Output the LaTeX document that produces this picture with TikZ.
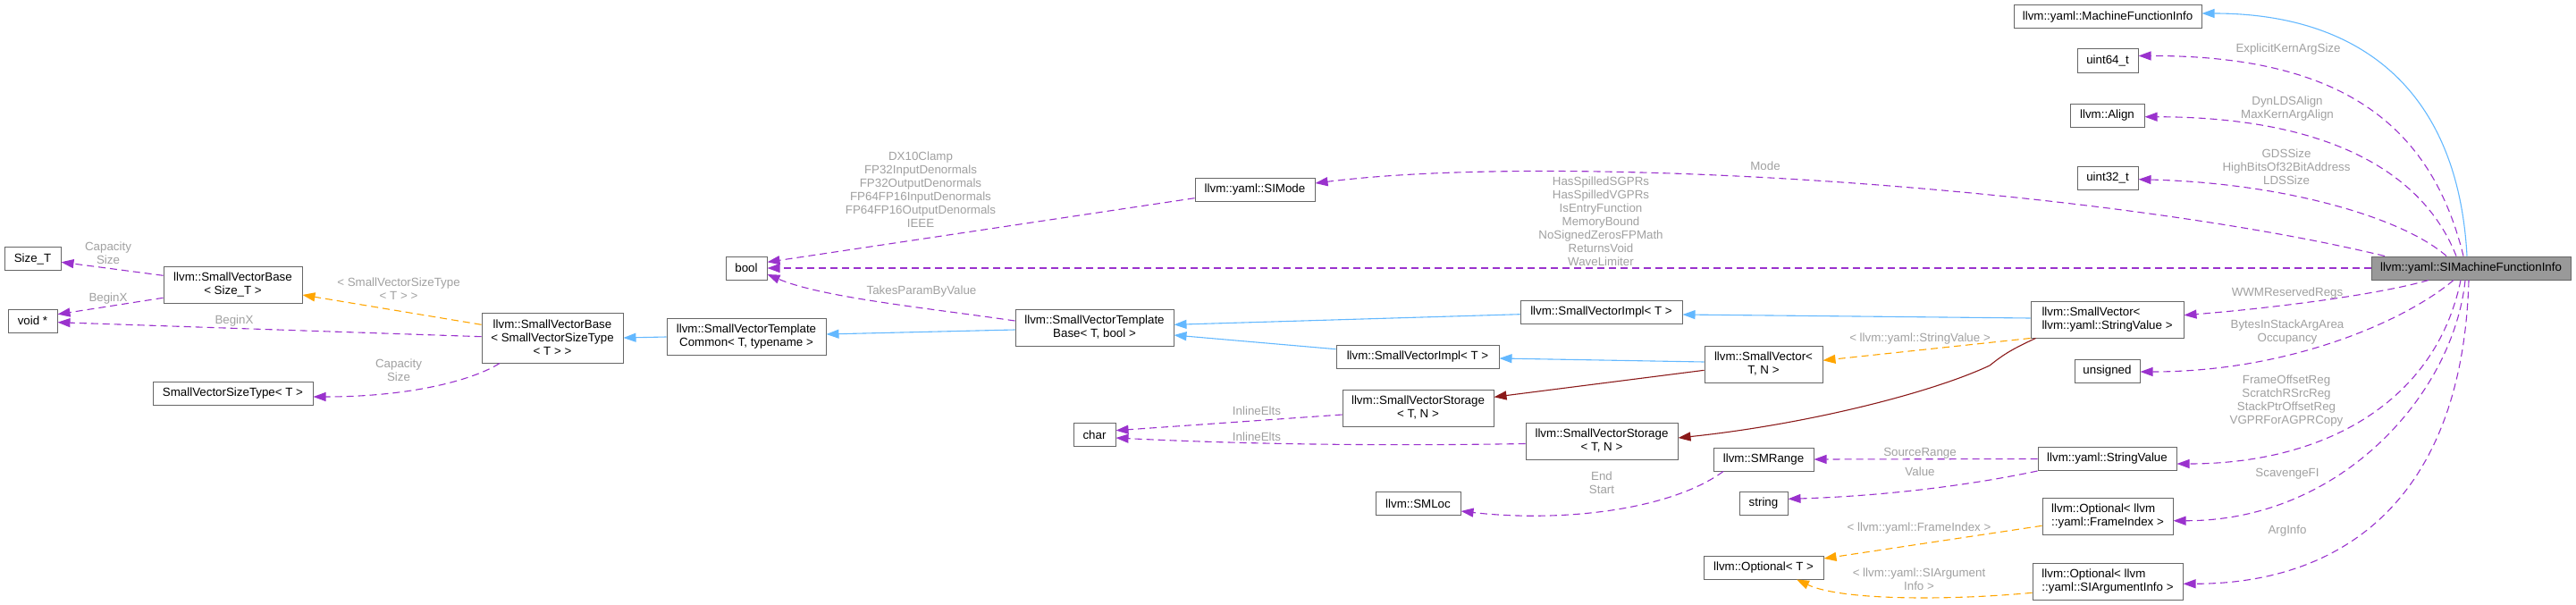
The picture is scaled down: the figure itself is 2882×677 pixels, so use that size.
\documentclass[tikz,border=0pt]{standalone}
\usepackage{fontspec}
\setmainfont{Liberation Sans}
\usetikzlibrary{arrows.meta}
\definecolor{purp}{HTML}{9A32CD}
\definecolor{blu}{HTML}{63B8FF}
\definecolor{orng}{HTML}{FFA500}
\definecolor{dred}{HTML}{8B1A1A}
\definecolor{lblgray}{HTML}{A0A0A0}
\definecolor{boxgray}{HTML}{666666}
\definecolor{simfill}{HTML}{999999}
\newcommand{\fsz}{\fontsize{13.33}{15}\selectfont}
\tikzset{
  box/.style={draw=boxgray, fill=white, line width=1pt, inner sep=0pt, font=\fsz, align=center},
  lbox/.style={box, align=left},
  lbl/.style={text=lblgray, font=\fsz, align=center, inner sep=0pt},
  tipx/.style={-{Triangle[length=14pt,width=10pt]}},
  mem/.style={draw=purp, line width=1.1pt, dash pattern=on 8pt off 5pt, tipx},
  inh/.style={draw=blu, line width=1.1pt, tipx},
  tpl/.style={draw=orng, line width=1.1pt, dash pattern=on 8pt off 5pt, tipx},
  priv/.style={draw=dred, line width=1.1pt, tipx}
}
\begin{document}
\begin{tikzpicture}[x=1pt,y=-1pt]
\useasboundingbox (0,0) rectangle (2882,677);
% nodes
\node[box, minimum width=210pt, minimum height=26pt] (MFI) at (2358,19) {llvm::yaml::MachineFunctionInfo};
\node[box, minimum width=68pt, minimum height=26pt] (u64) at (2358,68) {uint64\_t};
\node[box, minimum width=83pt, minimum height=26pt] (align) at (2357.5,129.5) {llvm::Align};
\node[box, minimum width=68pt, minimum height=26pt] (u32) at (2358,199) {uint32\_t};
\node[box, fill=simfill, minimum width=223pt, minimum height=26pt] (SIMFI) at (2764.5,300) {llvm::yaml::SIMachineFunctionInfo};
\node[lbox, minimum width=171pt, minimum height=41pt] (SVSV) at (2357.5,357.5) {llvm::SmallVector<\\llvm::yaml::StringValue >};
\node[box, minimum width=73pt, minimum height=26pt] (unsig) at (2357.5,415) {unsigned};
\node[box, minimum width=155pt, minimum height=26pt] (ySV) at (2357.5,513.5) {llvm::yaml::StringValue};
\node[lbox, minimum width=146pt, minimum height=41pt] (OptFI) at (2358,577.5) {llvm::Optional< llvm\\::yaml::FrameIndex >};
\node[lbox, minimum width=168pt, minimum height=41pt] (OptSIA) at (2358,650.5) {llvm::Optional< llvm\\::yaml::SIArgumentInfo >};
\node[box, minimum width=181pt, minimum height=26pt] (ImplU) at (1791.5,349) {llvm::SmallVectorImpl< T >};
\node[box, minimum width=182pt, minimum height=26pt] (ImplL) at (1586,399.5) {llvm::SmallVectorImpl< T >};
\node[box, minimum width=132pt, minimum height=41pt] (SVTN) at (1973,407.5) {llvm::SmallVector<\\T, N >};
\node[box, minimum width=169pt, minimum height=41pt] (StorU) at (1586.5,456.5) {llvm::SmallVectorStorage\\< T, N >};
\node[box, minimum width=170pt, minimum height=41pt] (StorL) at (1792,493.5) {llvm::SmallVectorStorage\\< T, N >};
\node[box, minimum width=112pt, minimum height=26pt] (SMRange) at (1973,514) {llvm::SMRange};
\node[box, minimum width=95pt, minimum height=26pt] (SMLoc) at (1586.5,563.5) {llvm::SMLoc};
\node[box, minimum width=54pt, minimum height=26pt] (strg) at (1973,563) {string};
\node[box, minimum width=134pt, minimum height=26pt] (OptT) at (1973,635) {llvm::Optional< T >};
\node[box, minimum width=134pt, minimum height=26pt] (SIMode) at (1404,212) {llvm::yaml::SIMode};
\node[box, minimum width=46pt, minimum height=26pt] (boolN) at (835,300) {bool};
\node[box, minimum width=177pt, minimum height=41pt] (SVTB) at (1224.5,366.5) {llvm::SmallVectorTemplate\\Base< T, bool >};
\node[box, minimum width=178pt, minimum height=41pt] (SVTC) at (835,377) {llvm::SmallVectorTemplate\\Common< T, typename >};
\node[box, minimum width=47pt, minimum height=26pt] (charN) at (1224.5,486.5) {char};
\node[box, minimum width=158pt, minimum height=56pt] (SVBST) at (618,378) {llvm::SmallVectorBase\\< SmallVectorSizeType\\< T > >};
\node[box, minimum width=155pt, minimum height=41pt] (SVBSz) at (260.5,318.5) {llvm::SmallVectorBase\\< Size\_T >};
\node[box, minimum width=63pt, minimum height=26pt] (SizeT) at (36.5,289.5) {Size\_T};
\node[box, minimum width=55pt, minimum height=26pt] (voidp) at (36.5,359) {void *};
\node[box, minimum width=179pt, minimum height=26pt] (SVST) at (260.5,440) {SmallVectorSizeType< T >};

% inheritance (blue)
\draw[inh] ([xshift=-4.5pt]SIMFI.north) .. controls (2750,100) and (2640,15) .. ([yshift=4pt]MFI.east);
\draw[inh] ([yshift=-2.5pt]SVTB.west) -- ([yshift=3pt]SVTC.east);
\draw[inh] (SVTC.west) -- (SVBST.east);
\draw[inh] ([yshift=-2.7pt]ImplU.west) -- ([yshift=3.2pt]SVTB.east);
\draw[inh] ([yshift=8.8pt]ImplL.west) -- ([yshift=-8.5pt]SVTB.east);
\draw[inh] ([yshift=1.5pt]SVSV.west) -- ([yshift=-3pt]ImplU.east);
\draw[inh] ([yshift=2.5pt]SVTN.west) -- ([yshift=-1.5pt]ImplL.east);

% private (dark red)
\draw[priv] ([yshift=-6.8pt]SVTN.west) -- ([yshift=12.2pt]StorU.east);
\draw[priv] ([xshift=6pt]SVSV.south west) .. controls (2248,392) and (2240,398) .. (2226,409) .. controls (2160,440) and (2020,475) .. ([yshift=3.5pt]StorL.east);

% template (orange)
\draw[tpl] ([yshift=14.7pt]SVBST.west) -- ([yshift=-11.5pt]SVBSz.east);
\draw[tpl] (SVSV.south west) -- ([yshift=4.2pt]SVTN.east);
\draw[tpl] ([yshift=-10.8pt]OptFI.west) -- ([yshift=10pt]OptT.east);
\draw[tpl] ([yshift=-12.8pt]OptSIA.west) .. controls (2180,672) and (2060,672) .. ([xshift=37pt]OptT.south);

% members (purple dashed)
\draw[mem] ([yshift=10.2pt]SVBSz.west) -- ([yshift=-3.8pt]SizeT.east);
\draw[mem] ([yshift=-14.8pt]SVBSz.west) -- ([yshift=7.3pt]voidp.east);
\draw[mem] ([yshift=1.3pt]SVBST.west) -- ([yshift=-1.7pt]voidp.east);
\draw[mem] ([xshift=-59pt]SVBST.south) .. controls (530,425) and (460,444) .. ([yshift=-4pt]SVST.east);
\draw[mem] ([yshift=-9.7pt]SIMode.west) -- ([yshift=6.7pt]boolN.east);
\draw[mem] (SIMFI.west) -- (boolN.east);
\draw[mem] ([yshift=7.5pt]SVTB.west) .. controls (1040,345) and (920,333) .. ([yshift=-7pt]boolN.east);
\draw[mem] ([xshift=-96.5pt]SIMFI.north) .. controls (2350,210) and (1750,170) .. ([yshift=7pt]SIMode.east);
\draw[mem] ([yshift=-7.5pt]StorU.west) -- ([yshift=4.8pt]charN.east);
\draw[mem] ([yshift=-3pt]StorL.west) .. controls (1500,500) and (1350,495) .. ([yshift=-3.5pt]charN.east);
\draw[mem] ([xshift=-45pt]SMRange.south) .. controls (1870,570) and (1750,585) .. ([yshift=-8.5pt]SMLoc.east);
\draw[mem] (ySV.west) -- (SMRange.east);
\draw[mem] (ySV.south west) .. controls (2180,548) and (2080,556) .. ([yshift=4.7pt]strg.east);
\draw[mem] ([xshift=-8.5pt]SIMFI.north) .. controls (2720,140) and (2620,62) .. ([yshift=5.5pt]u64.east);
\draw[mem] ([xshift=-16.5pt]SIMFI.north) .. controls (2710,190) and (2600,131) .. ([yshift=-1.2pt]align.east);
\draw[mem] ([xshift=-27.5pt]SIMFI.north) .. controls (2690,245) and (2560,205) .. ([yshift=-1.7pt]u32.east);
\draw[mem] ([xshift=-47.5pt]SIMFI.south) .. controls (2660,330) and (2540,345) .. ([yshift=4.8pt]SVSV.east);
\draw[mem] ([xshift=-19.5pt]SIMFI.south) .. controls (2690,360) and (2560,416) .. ([yshift=-1pt]unsig.east);
\draw[mem] ([xshift=-11.5pt]SIMFI.south) .. controls (2725,450) and (2600,519) .. ([yshift=-5.5pt]ySV.east);
\draw[mem] ([xshift=-6.5pt]SIMFI.south) .. controls (2745,440) and (2620,583) .. ([yshift=-5.2pt]OptFI.east);
\draw[mem] ([xshift=-2.5pt]SIMFI.south) .. controls (2755,560) and (2620,653) .. ([yshift=-2.8pt]OptSIA.east);

% labels
\node[lbl] (la1) at (121,283) {Capacity\\Size};
\node[lbl] (la2) at (121,334) {BeginX};
\node[lbl] (la3) at (262,359) {BeginX};
\node[lbl] (la4) at (446,323) {< SmallVectorSizeType\\< T > >};
\node[lbl] (la5) at (446,414) {Capacity\\Size};
\node[lbl] (la6) at (1030,212) {DX10Clamp\\FP32InputDenormals\\FP32OutputDenormals\\FP64FP16InputDenormals\\FP64FP16OutputDenormals\\IEEE};
\node[lbl] (la7) at (1791,248) {HasSpilledSGPRs\\HasSpilledVGPRs\\IsEntryFunction\\MemoryBound\\NoSignedZerosFPMath\\ReturnsVoid\\WaveLimiter};
\node[lbl] (la8) at (1031,326) {TakesParamByValue};
\node[lbl] (la9) at (1975,186) {Mode};
\node[lbl] (la10) at (1406,460) {InlineElts};
\node[lbl] (la11) at (1406,489) {InlineElts};
\node[lbl] (la12) at (1792,540) {End\\Start};
\node[lbl] (la13) at (2148,507) {SourceRange};
\node[lbl] (la14) at (2148,528) {Value};
\node[lbl] (la15) at (2148,379) {< llvm::yaml::StringValue >};
\node[lbl] (la16) at (2147,591) {< llvm::yaml::FrameIndex >};
\node[lbl] (la17) at (2147,648) {< llvm::yaml::SIArgument\\Info >};
\node[lbl] (la18) at (2560,55) {ExplicitKernArgSize};
\node[lbl] (la19) at (2559,122) {DynLDSAlign\\MaxKernArgAlign};
\node[lbl] (la20) at (2558,187) {GDSSize\\HighBitsOf32BitAddress\\LDSSize};
\node[lbl] (la21) at (2559,328) {WWMReservedRegs};
\node[lbl] (la22) at (2559,372) {BytesInStackArgArea\\Occupancy};
\node[lbl] (la23) at (2558,449) {FrameOffsetReg\\ScratchRSrcReg\\StackPtrOffsetReg\\VGPRForAGPRCopy};
\node[lbl] (la24) at (2559,530) {ScavengeFI};
\node[lbl] (la25) at (2559,594) {ArgInfo};
\end{tikzpicture}
\end{document}
